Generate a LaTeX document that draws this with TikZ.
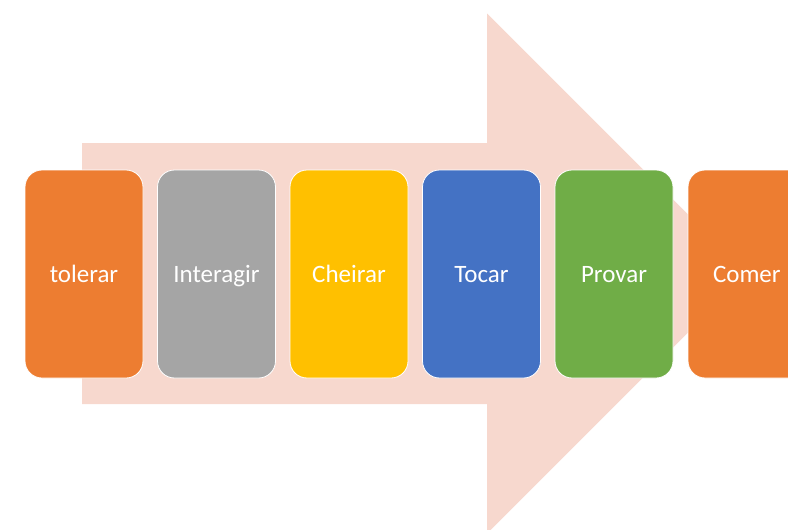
\documentclass[tikz,border=0pt]{standalone}
\usepackage{fontspec}
\setmainfont{Carlito}
\definecolor{arrowfill}{HTML}{F7D8CE}
\definecolor{cOrange}{HTML}{ED7D31}
\definecolor{cGray}{HTML}{A5A5A5}
\definecolor{cYellow}{HTML}{FFC000}
\definecolor{cBlue}{HTML}{4472C4}
\definecolor{cGreen}{HTML}{70AD47}
\begin{document}
\begin{tikzpicture}[x=1pt,y=-1pt,
  stepbox/.style={draw=white, line width=0.8pt, rounded corners=17pt,
    minimum width=118pt, minimum height=208pt, inner sep=0pt,
    text height=17pt, text depth=0pt,
    text=white, font=\fontsize{25}{30}\selectfont}]
  \useasboundingbox (0,0) rectangle (788,530);
  \begin{scope}
    \clip (0,0) rectangle (788,530);
    % large background arrow
    \fill[arrowfill] (82,143) -- (487,143) -- (487,13.5) -- (747,273.5)
      -- (487,533.5) -- (487,404) -- (82,404) -- cycle;
    % process steps
    \node[stepbox, fill=cOrange] (tolerar)   at (84,274)  {tolerar};
    \node[stepbox, fill=cGray]   (interagir) at (216.5,274) {Interagir};
    \node[stepbox, fill=cYellow] (cheirar)   at (349,274) {Cheirar};
    \node[stepbox, fill=cBlue]   (tocar)     at (481.5,274) {Tocar};
    \node[stepbox, fill=cGreen]  (provar)    at (614,274) {Provar};
    \node[stepbox, fill=cOrange, text width=100pt, align=left] (comer) at (747,274) {\hspace*{16pt}Comer};
  \end{scope}
\end{tikzpicture}
\end{document}
